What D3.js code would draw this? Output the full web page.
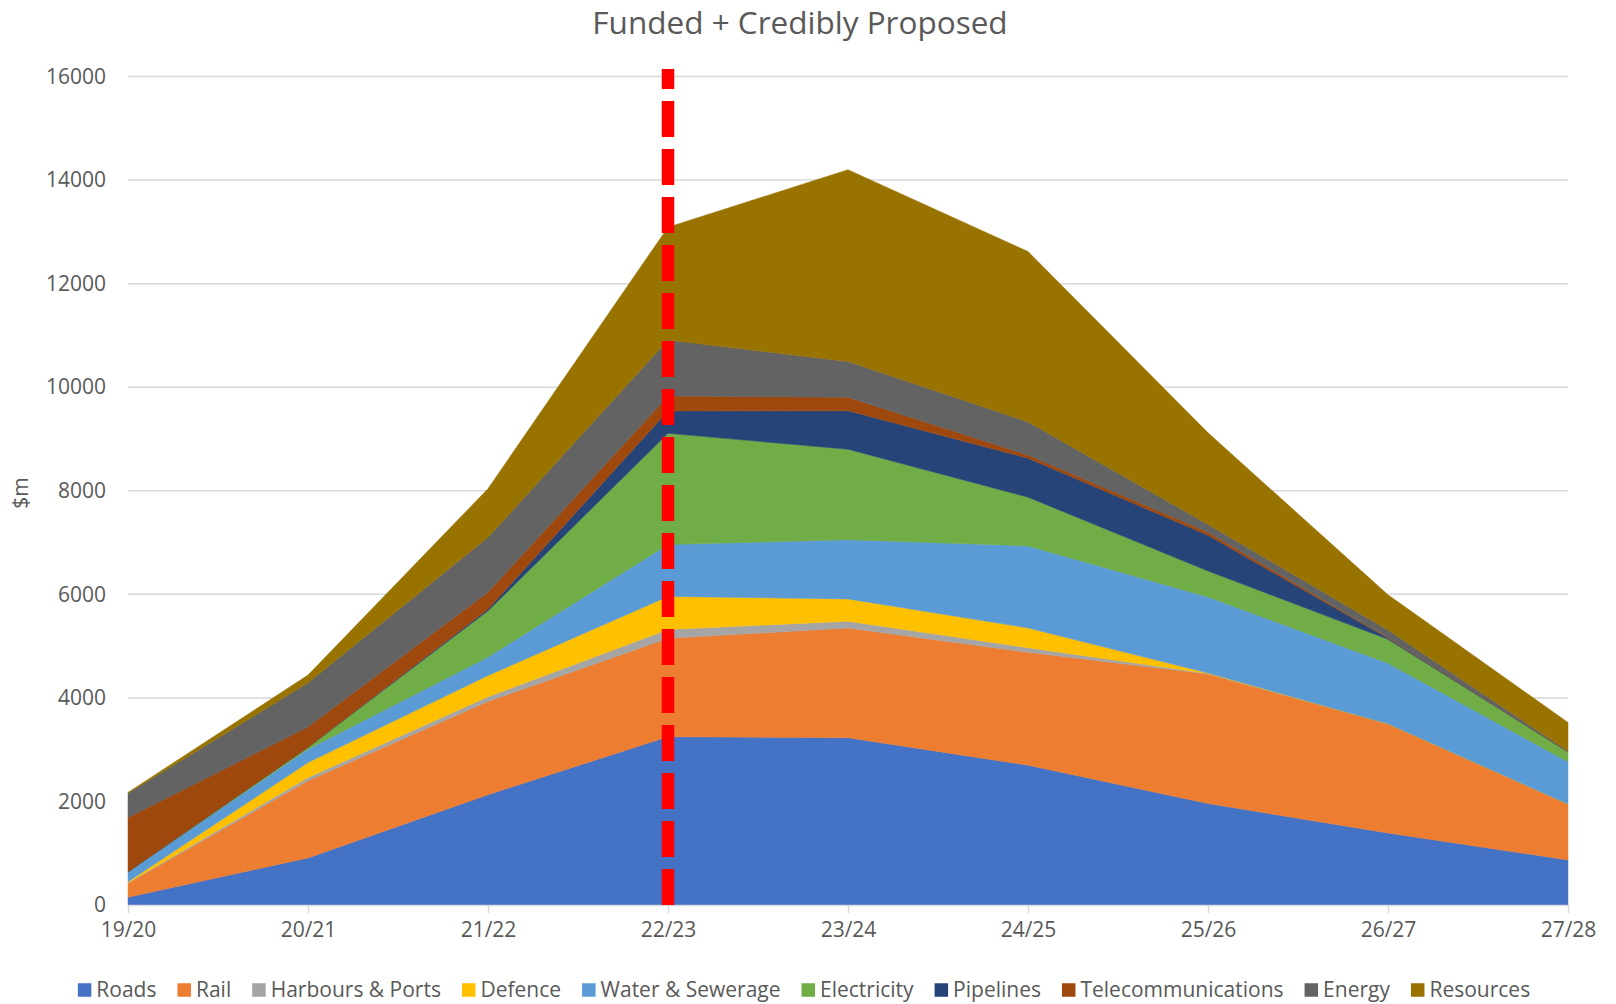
<!DOCTYPE html>
<html>
<head>
<meta charset="utf-8">
<script src="https://cdn.jsdelivr.net/npm/d3@7"></script>
<style>
  html, body { margin: 0; padding: 0; background: #fff; }
  svg { display: block; }
  text { font-family: "Open Sans", "Liberation Sans", sans-serif; }
</style>
</head>
<body>
<svg id="chart" width="1616" height="1004"></svg>
<script>
const title = "Funded + Credibly Proposed";
const yAxisTitle = "$m";
const categories = ["19/20","20/21","21/22","22/23","23/24","24/25","25/26","26/27","27/28"];
const yTicks = [0, 2000, 4000, 6000, 8000, 10000, 12000, 14000, 16000];
const seriesNames = ["Roads","Rail","Harbours & Ports","Defence","Water & Sewerage","Electricity","Pipelines","Telecommunications","Energy","Resources"];
const seriesColors = ["#4472C4","#ED7D31","#A5A5A5","#FFC000","#5B9BD5","#70AD47","#264478","#9E480E","#636363","#997300"];

const roads       = [150, 910, 2130, 3250, 3230, 2700, 1960, 1390, 870];
const rail        = [270, 1490, 1800, 1900, 2120, 2180, 2500, 2110, 1080];
const harbours    = [10, 60, 90, 170, 130, 90, 10, 0, 0];
const defence     = [20, 290, 410, 640, 430, 380, 10, 0, 0];
const water       = [190, 260, 360, 1000, 1145, 1585, 1470, 1170, 815];
const electricity = [0, 35, 890, 2150, 1745, 940, 500, 460, 195];
const pipelines   = [0, 0, 30, 430, 745, 755, 690, 20, 0];
const telecom     = [1050, 395, 330, 290, 260, 60, 60, 10, 0];
const energy      = [470, 850, 1060, 1080, 690, 640, 150, 150, 15];
const resources   = [15, 150, 940, 2180, 3705, 3290, 1770, 680, 550];

const markerCategory = "22/23";

const seriesValues = [roads, rail, harbours, defence, water, electricity, pipelines, telecom, energy, resources];

const table = categories.map((c, i) => {
  const row = { cat: c };
  seriesNames.forEach((n, j) => row[n] = seriesValues[j][i]);
  return row;
});

const svg = d3.select("#chart");
const plot = { left: 128, right: 1568, top: 76.5, bottom: 905 };

const x = d3.scalePoint().domain(categories).range([plot.left, plot.right]).padding(0);
const y = d3.scaleLinear().domain([0, 16000]).range([plot.bottom, plot.top]);

// gridlines
svg.append("g").selectAll("line").data(yTicks.filter(d => d > 0)).join("line")
  .attr("x1", plot.left).attr("x2", plot.right)
  .attr("y1", d => y(d)).attr("y2", d => y(d))
  .attr("stroke", "#d9d9d9").attr("stroke-width", 1.5);

// areas
const stack = d3.stack().keys(seriesNames);
const stacked = stack(table);
const area = d3.area()
  .x(d => x(d.data.cat))
  .y0(d => y(d[0]))
  .y1(d => y(d[1]));

svg.append("g").selectAll("path").data(stacked).join("path")
  .attr("d", area)
  .attr("fill", (d, i) => seriesColors[i])
  .attr("stroke", (d, i) => seriesColors[i])
  .attr("stroke-width", 0.5);

// x axis
const xAxis = d3.axisBottom(x).tickSize(8).tickSizeOuter(0);
const gx = svg.append("g").attr("transform", `translate(0,${plot.bottom})`).call(xAxis);
gx.select(".domain").attr("stroke", "#d9d9d9").attr("stroke-width", 1.5);
gx.selectAll(".tick line").attr("stroke", "#d9d9d9").attr("stroke-width", 1.5);
gx.selectAll(".tick text").attr("font-size", 21).attr("fill", "#595959")
  .attr("font-family", "'Open Sans', sans-serif").attr("dy", "1.0em");

// y axis labels
const yAxis = d3.axisLeft(y).tickValues(yTicks).tickSize(0).tickPadding(22).tickFormat(d3.format("d"));
const gy = svg.append("g").attr("transform", `translate(${plot.left},0)`).call(yAxis);
gy.select(".domain").remove();
gy.selectAll(".tick text").attr("font-size", 21).attr("fill", "#595959")
  .attr("font-family", "'Open Sans', sans-serif");

// red dashed marker line (drawn from the axis upward)
svg.append("line")
  .attr("x1", x(markerCategory)).attr("x2", x(markerCategory))
  .attr("y1", y(0)).attr("y2", y(16000) - 7.5)
  .attr("stroke", "#FF0000").attr("stroke-width", 12.5)
  .attr("stroke-dasharray", "36,12");

// title
svg.append("text").attr("x", 800).attr("y", 34).attr("text-anchor", "middle")
  .attr("font-size", 31.5).attr("fill", "#595959").text(title);

// y axis title
svg.append("text").attr("transform", "translate(28,493) rotate(-90)")
  .attr("text-anchor", "middle").attr("font-size", 21).attr("fill", "#595959").text(yAxisTitle);

// legend
const legend = svg.append("g");
const markerSize = 13.5, markerGap = 5, itemGap = 21;
const items = legend.selectAll("g").data(seriesNames).join("g");
items.append("rect").attr("width", markerSize).attr("height", markerSize)
  .attr("y", -markerSize / 2).attr("fill", (d, i) => seriesColors[i]);
items.append("text").attr("x", markerSize + markerGap).attr("dy", "0.35em")
  .attr("font-size", 21).attr("fill", "#595959").text(d => d);
const widths = [];
items.each(function() { widths.push(d3.select(this).select("text").node().getComputedTextLength() + markerSize + markerGap); });
const total = d3.sum(widths) + itemGap * (widths.length - 1);
let start = 804 - total / 2;
items.attr("transform", (d, i) => {
  const t = `translate(${start},990)`;
  start += widths[i] + itemGap;
  return t;
});
</script>
</body>
</html>
